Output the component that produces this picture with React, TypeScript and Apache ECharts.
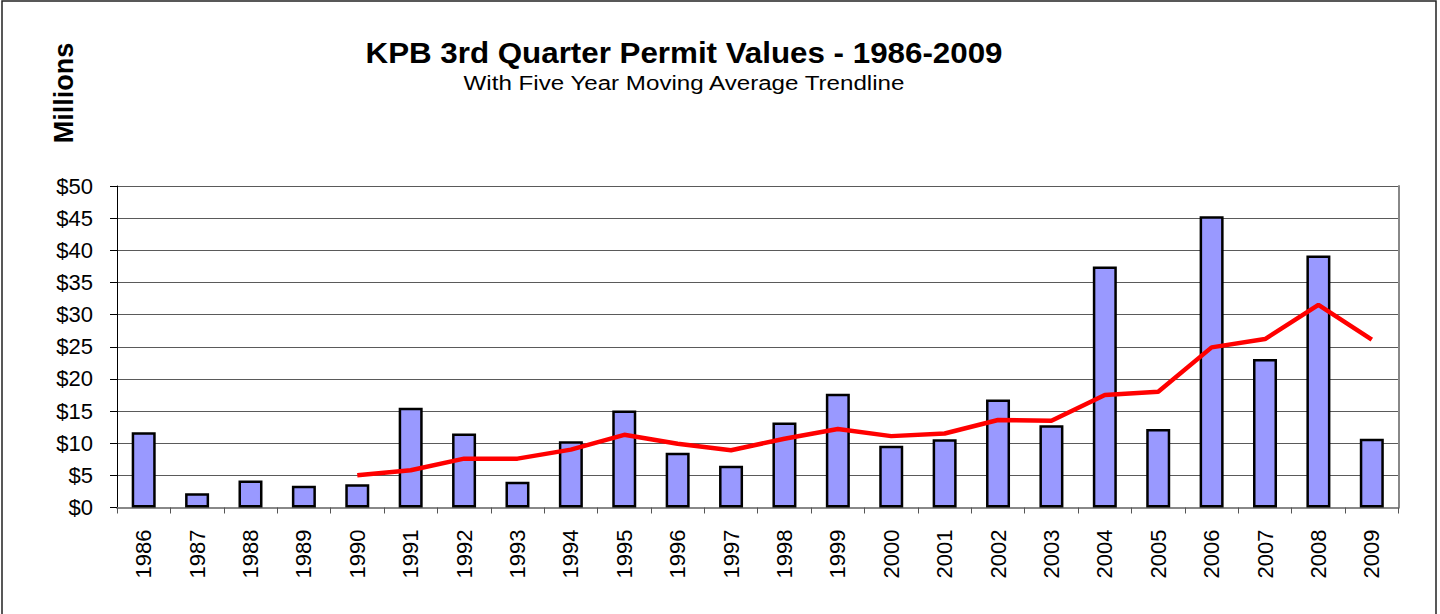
import React, { useEffect, useRef } from "react";
import * as echarts from "echarts";

const years = [
  "1986", "1987", "1988", "1989", "1990", "1991", "1992", "1993",
  "1994", "1995", "1996", "1997", "1998", "1999", "2000", "2001",
  "2002", "2003", "2004", "2005", "2006", "2007", "2008", "2009",
];

const permitValues = [
  11.7, 2.2, 4.2, 3.4, 3.6, 15.5, 11.5, 4.0,
  10.3, 15.1, 8.5, 6.5, 13.2, 17.7, 9.6, 10.6,
  16.8, 12.8, 37.5, 12.2, 45.3, 23.1, 39.2, 10.7,
];

const movingAverage = [
  null, null, null, null, 5.0, 5.8, 7.6, 7.6,
  9.0, 11.3, 9.9, 8.9, 10.7, 12.2, 11.1, 11.5,
  13.6, 13.5, 17.5, 18.0, 24.9, 26.2, 31.5, 26.1,
];

const titleText = "KPB 3rd Quarter Permit Values - 1986-2009";
const subtitleText = "With Five Year Moving Average Trendline";
const yAxisName = "Millions";

const FONT = "'Liberation Sans', Arial, Helvetica, sans-serif";

export default function App() {
  const ref = useRef<HTMLDivElement>(null);

  useEffect(() => {
    if (!ref.current) return;
    const chart = echarts.init(ref.current, null, { renderer: "svg" });
    chart.setOption({
      animation: false,
      backgroundColor: "#ffffff",
      textStyle: { fontFamily: FONT },
      graphic: [
        {
          type: "rect",
          shape: { x: 2, y: 1, width: 1434, height: 660 },
          style: { fill: "none", stroke: "#222", lineWidth: 1.5 },
          silent: true,
        },
        {
          type: "text",
          x: 684,
          y: 53,
          scaleX: 1.08,
          style: {
            text: titleText,
            font: `bold 29px ${FONT}`,
            fill: "#000",
            align: "center",
            verticalAlign: "middle",
          },
        },
        {
          type: "text",
          x: 684,
          y: 83,
          scaleX: 1.15,
          style: {
            text: subtitleText,
            font: `21px ${FONT}`,
            fill: "#000",
            align: "center",
            verticalAlign: "middle",
          },
        },
        {
          type: "text",
          x: 64,
          y: 93,
          rotation: Math.PI / 2,
          style: {
            text: yAxisName,
            font: `bold 27px ${FONT}`,
            fill: "#000",
            align: "center",
            verticalAlign: "middle",
          },
        },
      ],
      grid: { left: 117, right: 41.5, top: 186, bottom: 106.5, containLabel: false },
      xAxis: [
        {
          type: "category",
          data: years,
          position: "bottom",
          axisLine: { show: true, lineStyle: { color: "#000", width: 1 } },
          axisTick: { show: true, length: 6, lineStyle: { color: "#555" } },
          axisLabel: {
            rotate: 90,
            margin: 22,
            fontSize: 22,
            color: "#000",
            fontFamily: FONT,
          },
          splitLine: { show: false },
        },
        {
          type: "category",
          data: years,
          position: "top",
          axisLine: { show: true, lineStyle: { color: "#888", width: 2 } },
          axisTick: { show: false },
          axisLabel: { show: false },
          splitLine: { show: false },
        },
      ],
      yAxis: [
        {
          type: "value",
          min: 0,
          max: 50,
          interval: 5,
          position: "left",
          axisLine: { show: true, lineStyle: { color: "#000", width: 1 } },
          axisTick: { show: true, length: 7, lineStyle: { color: "#000" } },
          axisLabel: {
            margin: 24,
            fontSize: 22,
            color: "#000",
            fontFamily: FONT,
            formatter: (v: number) => "$" + v,
          },
          splitLine: { show: true, lineStyle: { color: "#5a5a5a", width: 1 } },
        },
        {
          type: "value",
          min: 0,
          max: 50,
          interval: 5,
          position: "right",
          axisLine: { show: true, lineStyle: { color: "#888", width: 2 } },
          axisTick: { show: false },
          axisLabel: { show: false },
          splitLine: { show: false },
        },
      ],
      series: [
        {
          type: "bar",
          name: "Permit Values",
          data: permitValues,
          barWidth: 24,
          itemStyle: { color: "#9999FF", borderColor: "#000", borderWidth: 2.5 },
          z: 2,
        },
        {
          type: "line",
          name: "Five Year Moving Average",
          data: movingAverage,
          symbol: "none",
          showSymbol: false,
          connectNulls: false,
          lineStyle: { color: "#FF0000", width: 4.5 },
          z: 3,
        },
      ],
    });
    return () => chart.dispose();
  }, []);

  return (
    <div
      ref={ref}
      style={{ position: "fixed", left: 0, top: 0, width: 1440, height: 614, background: "#fff" }}
    />
  );
}
